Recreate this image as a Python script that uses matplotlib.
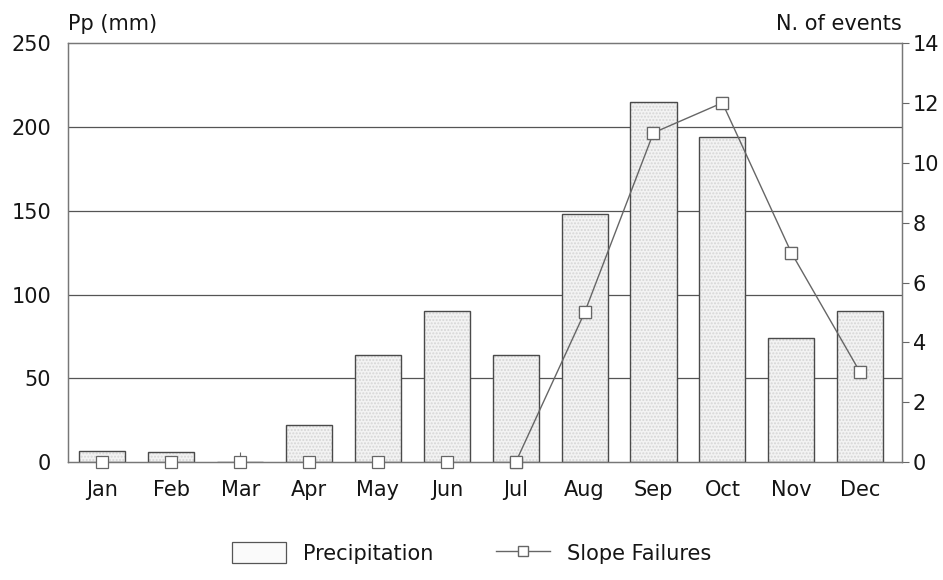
import numpy as np
import matplotlib.pyplot as plt
from matplotlib.patches import Patch
from matplotlib.lines import Line2D

months = ['Jan', 'Feb', 'Mar', 'Apr', 'May', 'Jun', 'Jul', 'Aug', 'Sep', 'Oct', 'Nov', 'Dec']
precip = [7, 6, 0, 22, 64, 90, 64, 148, 215, 194, 74, 90]
failures = [0, 0, 0, 0, 0, 0, 0, 5, 11, 12, 7, 3]

plt.rcParams['font.family'] = ['DejaVu Sans']
txt = '#151515'
fs = 15

fig = plt.figure(figsize=(9.43, 5.8), dpi=100)
ax = fig.add_axes([0.072, 0.203, 0.884, 0.723])
x = np.arange(len(months))

# stippled fill first, outline on top (explicit edgecolor would darken the hatch)
ax.bar(x, precip, width=0.67, color='#f3f3f3', edgecolor='#d6d6d6', linewidth=0,
       hatch='.....', zorder=2)
ax.bar(x, precip, width=0.67, fill=False, edgecolor='#4a4a4a', linewidth=1.0, zorder=3)
for y in [50, 100, 150, 200]:
    ax.axhline(y, color='#555555', linewidth=0.9, zorder=1)

ax.set_xlim(-0.5, 11.6)
ax.set_ylim(0, 250)
ax.set_yticks([0, 50, 100, 150, 200, 250])
ax.set_xticks(x)
ax.set_xticklabels(months)
ax.tick_params(axis='x', direction='in', length=7, color='#666666', labelsize=fs,
               labelcolor=txt, pad=13)
ax.tick_params(axis='y', length=0, labelsize=fs, labelcolor=txt, pad=12)
for s in ax.spines.values():
    s.set_color('#777777')
    s.set_linewidth(0.9)

ax2 = ax.twinx()
ax2.set_ylim(0, 14)
ax2.set_yticks(range(0, 15, 2))
ax2.tick_params(axis='y', direction='out', length=5, color='#666666', labelsize=fs,
                labelcolor=txt, pad=3)
# markers for every month, connecting line only from July on
ax2.plot(x, failures, linestyle='none', marker='s', markersize=8,
         markerfacecolor='white', markeredgecolor='#666666', markeredgewidth=0.9,
         zorder=4, clip_on=False)
ax2.plot(x[6:], failures[6:], color='#666666', linewidth=1.0, marker='s', markersize=8,
         markerfacecolor='white', markeredgecolor='#666666', markeredgewidth=0.9,
         zorder=4, clip_on=False)
for s in ax2.spines.values():
    s.set_color('#777777')
    s.set_linewidth(0.9)

fig.text(0.072, 0.958, 'Pp (mm)', fontsize=fs, color=txt, ha='left', va='center')
fig.text(0.956, 0.958, 'N. of events', fontsize=fs, color=txt, ha='right', va='center')

handles = [Patch(facecolor='#fafafa', edgecolor='#555555', linewidth=0.9),
           Line2D([], [], color='#666666', linewidth=1.0, marker='s', markersize=7,
                  markerfacecolor='white', markeredgecolor='#666666')]
fig.legend(handles, ['Precipitation', 'Slope Failures'], loc='center',
           bbox_to_anchor=(0.5, 0.047), ncol=2, frameon=False, fontsize=fs,
           handlelength=2.6, handleheight=1.2, columnspacing=3.0,
           labelcolor=txt)

fig.savefig('out.png', dpi=100)
